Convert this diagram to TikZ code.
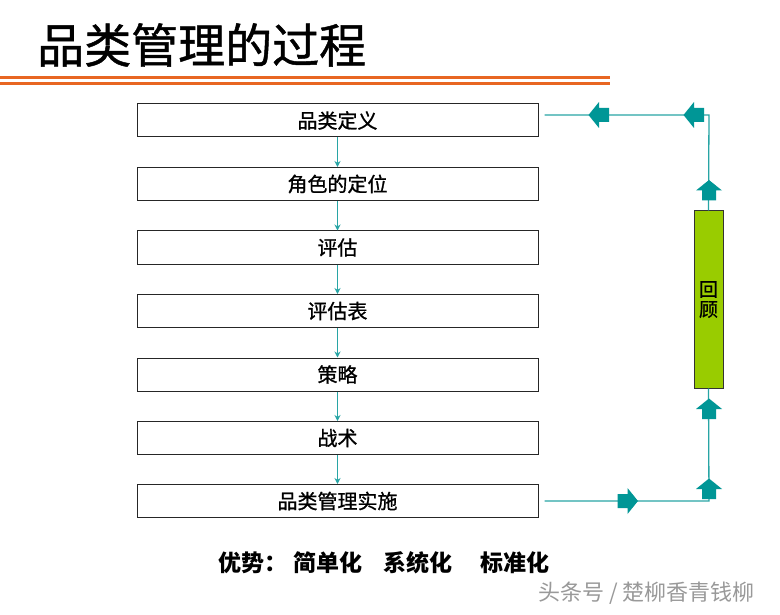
\documentclass[tikz,border=0pt]{standalone}
\usepackage{fontspec}
\setmainfont{Noto Sans CJK SC}
\newfontfamily\boxfont{Noto Sans CJK SC}[FakeBold=1]
\usetikzlibrary{arrows.meta}
\definecolor{tealA}{RGB}{0,150,150}
\definecolor{tealL}{RGB}{40,165,165}
\definecolor{barG}{RGB}{153,204,0}
\definecolor{orng}{RGB}{232,102,34}
\tikzset{
  stepbox/.style={draw=black!85, line width=1pt, fill=white, minimum width=401pt, minimum height=33pt, inner sep=0pt, font=\fontsize{20}{22}\selectfont\boxfont},
  link/.style={draw=tealL, line width=1.3pt},
  smallarrow/.style={draw=tealL, line width=1pt, -{Stealth[length=6pt,width=6pt]}},
  blockarrow/.pic={\fill[tealA] (-10,-7) -- (0,-7) -- (0,-13) -- (10.5,0) -- (0,13) -- (0,7) -- (-10,7) -- cycle;},
  bottomtxt/.style={anchor=west, inner sep=0pt, font=\fontsize{23}{25}\selectfont\bfseries}
}
\begin{document}
\begin{tikzpicture}[x=1pt,y=-1pt]
\useasboundingbox (0,0) rectangle (780,615);
\fill[white] (0,0) rectangle (780,615);
% title
\node[anchor=west, inner sep=0pt, font=\fontsize{47}{50}\selectfont\boxfont] (title) at (37,45) {品类管理的过程};
\draw[orng, line width=3pt] (0,77.5) -- (610,77.5);
\draw[orng, line width=3pt] (0,83.5) -- (610,83.5);
% boxes
\node[stepbox] (b1) at (337.5,120.5) {品类定义};
\node[stepbox] (b2) at (337.5,184) {角色的定位};
\node[stepbox] (b3) at (337.5,247.5) {评估};
\node[stepbox] (b4) at (337.5,311) {评估表};
\node[stepbox] (b5) at (337.5,374.5) {策略};
\node[stepbox] (b6) at (337.5,438) {战术};
\node[stepbox] (b7) at (337.5,501) {品类管理实施};
\foreach \a/\b in {b1/b2,b2/b3,b3/b4,b4/b5,b5/b6,b6/b7}
  \draw[smallarrow] (\a.south) -- (\b.north);
% review bar
\node[draw=black!80, line width=1pt, fill=barG, minimum width=29pt, minimum height=177pt, inner sep=0pt, align=center, font=\fontsize{19}{20}\selectfont\boxfont] (rv) at (708.5,299.5) {回\\顾};
% feedback loop
\coordinate (cb) at (709,501);
\coordinate (ct) at (709,115);
\coordinate (sb) at ([xshift=6pt]b7.east);
\coordinate (st) at ([xshift=6pt]b1.east |- ct);
\draw[link] (sb) -- (cb) -- (rv.south);
\draw[link] (rv.north) -- (ct) -- (st);
\pic at (627.5,501) {blockarrow};
\pic[rotate=90] at (709,489) {blockarrow};
\pic[rotate=90] at (709,409) {blockarrow};
\pic[rotate=90] at (709,190.5) {blockarrow};
\pic[rotate=180] at (694,115) {blockarrow};
\pic[rotate=180] at (599,115) {blockarrow};
% bottom text
\node[bottomtxt] (adv) at (218,563) {优势：};
\node[bottomtxt] (t1) at (293,563) {简单化};
\node[bottomtxt] (t2) at (383,563) {系统化};
\node[bottomtxt] (t3) at (480,563) {标准化};
\node[anchor=west, inner sep=0pt, text=black!40, font=\fontsize{22}{24}\selectfont] (wm) at (538,593) {头条号 / 楚柳香青钱柳};
\end{tikzpicture}
\end{document}
